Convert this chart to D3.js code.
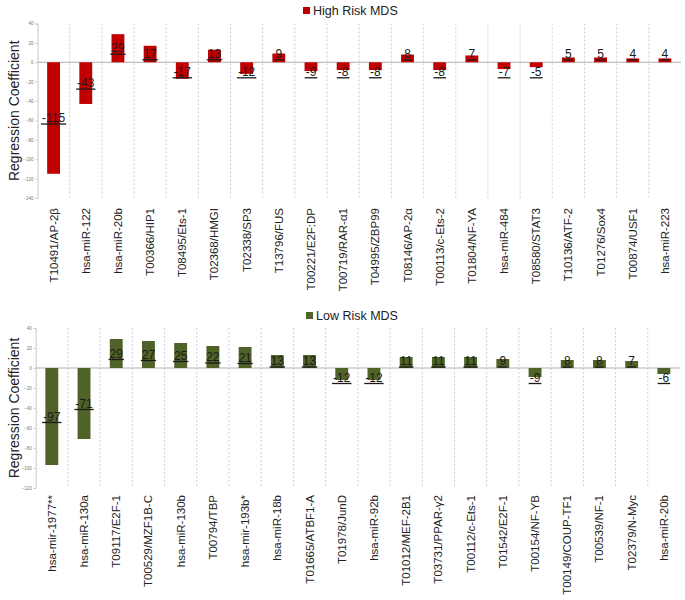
<!DOCTYPE html>
<html><head><meta charset="utf-8">
<script src="https://cdn.jsdelivr.net/npm/d3@7"></script>
<style>body{margin:0;background:#fff;font-family:"Liberation Sans",Arial,sans-serif}</style>
</head><body>
<svg id="c" width="685" height="600"></svg>
<script>
const highCategories = ["T10491/AP-2β","hsa-miR-122","hsa-miR-20b","T00366/HIP1","T08495/Ets-1","T02368/HMGI","T02338/SP3","T13796/FUS","T00221/E2F:DP","T00719/RAR-α1","T04995/ZBP99","T08146/AP-2α","T00113/c-Ets-2","T01804/NF-YA","hsa-miR-484","T08580/STAT3","T10136/ATF-2","T01276/Sox4","T00874/USF1","hsa-miR-223"];
const highValues = [-115,-43,29,17,-17,13,-12,9,-9,-8,-8,8,-8,7,-7,-5,5,5,4,4];
const highTicks = [40,20,0,-20,-40,-60,-80,-100,-120,-140];

const lowCategories = ["hsa-mir-1977**","hsa-miR-130a","T09117/E2F-1","T00529/MZF1B-C","hsa-miR-130b","T00794/TBP","hsa-mir-193b*","hsa-miR-18b","T01665/ATBF1-A","T01978/JunD","hsa-miR-92b","T01012/MEF-2B1","T03731/PPAR-γ2","T00112/c-Ets-1","T01542/E2F-1","T00154/NF-YB","T00149/COUP-TF1","T00539/NF-1","T02379/N-Myc","hsa-miR-20b"];
const lowValues = [-97,-71,29,27,25,22,21,13,13,-12,-12,11,11,11,9,-9,8,8,7,-6];
const lowTicks = [40,20,0,-20,-40,-60,-80,-100,-120];

const svg = d3.select("#c");

function panel(cfg){
  const g = svg.append("g");
  const x = d3.scaleBand().domain(cfg.cats).range([cfg.x0, cfg.x1]).padding(0);
  const y = d3.scaleLinear().domain([cfg.ymax, cfg.ymin]).range([cfg.yTop, cfg.yBot]);
  cfg.cats.slice(1).forEach(c=>{
    g.append("line").attr("x1",x(c)).attr("x2",x(c)).attr("y1",cfg.yTop).attr("y2",cfg.yBot)
      .attr("stroke","#b4c8dc").attr("stroke-width",0.8).attr("stroke-dasharray","2,2");
  });
  const ax = d3.axisLeft(y).tickValues(cfg.ticks).tickSize(2).tickPadding(2);
  const axg = g.append("g").attr("transform",`translate(${cfg.x0},0)`).call(ax);
  axg.select(".domain").attr("stroke","#c8c8c8");
  axg.selectAll(".tick line").attr("stroke","#c8c8c8");
  axg.selectAll(".tick text").attr("font-size",4.5).attr("fill","#777").attr("font-family","Liberation Sans, Arial");
  g.append("line").attr("x1",cfg.x0).attr("x2",cfg.x1).attr("y1",y(0)).attr("y2",y(0)).attr("stroke","#b0b0b0").attr("stroke-width",1);
  const bw = x.bandwidth()*0.4;
  const y0 = y(0);
  cfg.vals.forEach((v,i)=>{
    const c = cfg.cats[i];
    const cx = x(c)+x.bandwidth()/2;
    g.append("rect").attr("x",cx-bw/2).attr("width",bw)
      .attr("y",Math.min(y(v),y0)).attr("height",Math.abs(y(v)-y0))
      .attr("fill",cfg.color);
    let my = (y(v)+y0)/2;
    if (v>0) my = Math.min(my, y0-cfg.posOff); else my = Math.max(my, y0+9.5);
    const t = g.append("text").attr("x",cx).attr("y",my+4).attr("text-anchor","middle")
      .attr("font-size",12).attr("fill","#1a1a1a").text(v);
    const w = t.node().getComputedTextLength();
    g.append("line").attr("x1",cx-w/2-1).attr("x2",cx+w/2+1).attr("y1",my+6).attr("y2",my+6)
      .attr("stroke","#1a1a1a").attr("stroke-width",1.3);
    g.append("text").attr("transform",`translate(${cx+4},${cfg.labTop}) rotate(-90)`)
      .attr("text-anchor","end").attr("font-size",11.5).attr("fill","#222").text(c);
  });
  g.append("text").attr("transform",`translate(${cfg.titleX},${(cfg.yTop+cfg.yBot)/2}) rotate(-90)`)
    .attr("text-anchor","middle").attr("font-size",14).attr("fill","#222").text("Regression Coefficient");
  g.append("rect").attr("x",cfg.legX).attr("y",cfg.legY-4).attr("width",7).attr("height",7).attr("fill",cfg.color);
  g.append("text").attr("x",cfg.legX+10).attr("y",cfg.legY+4).attr("font-size",12.5).attr("fill","#222").text(cfg.legend);
}

panel({cats:highCategories, vals:highValues, ticks:highTicks, ymax:40, ymin:-140,
  x0:37.5, x1:681, yTop:23.5, yBot:198, color:"#c00000", labTop:208, titleX:19,
  legX:303, legY:11, legend:"High Risk MDS", posOff:8.5});
panel({cats:lowCategories, vals:lowValues, ticks:lowTicks, ymax:40, ymin:-120,
  x0:35.7, x1:680, yTop:328, yBot:488, color:"#4f6228", labTop:495, titleX:19,
  legX:306, legY:316, legend:"Low Risk MDS", posOff:7});
</script>
</body></html>
